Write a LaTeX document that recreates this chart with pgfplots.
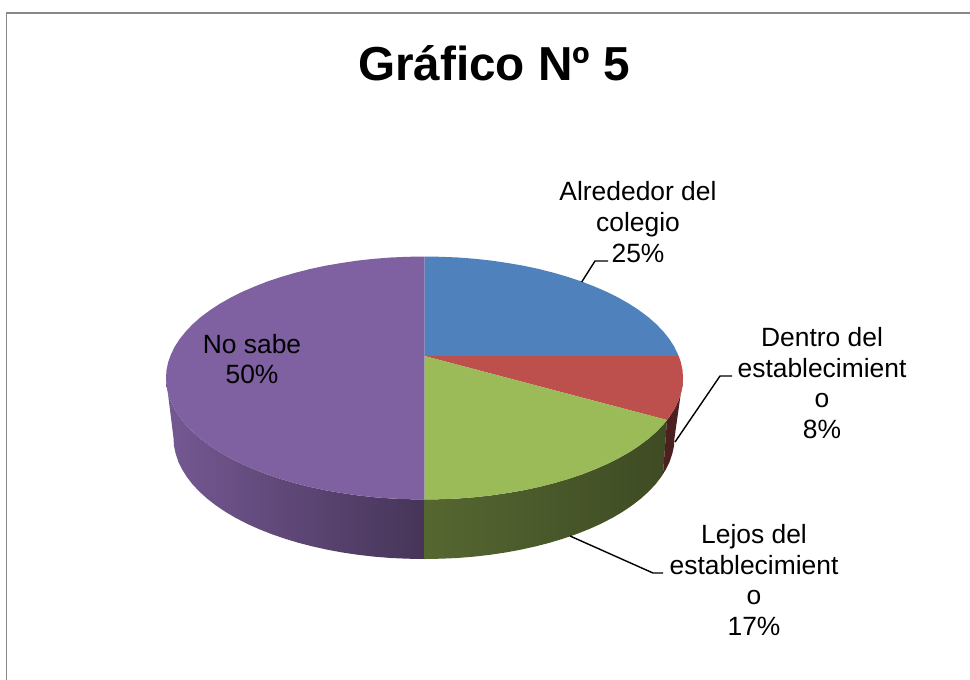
\documentclass[border=0pt]{standalone}
\usepackage{pgfplots}
\pgfplotsset{compat=1.18}
\usepackage{fontspec}
\setmainfont{Liberation Sans}

\definecolor{pblue}{HTML}{4F81BD}
\definecolor{pred}{HTML}{BD4F4C}
\definecolor{pgreen}{HTML}{9BBB59}
\definecolor{ppurple}{HTML}{7F60A0}

\tikzset{lbl/.style={font=\fontsize{26.4bp}{30.8bp}\selectfont, align=center, inner sep=0pt, text=black}}

\begin{document}
\begin{tikzpicture}
\begin{axis}[
    scale only axis,
    width=970bp, height=680bp,
    xmin=0, xmax=970, ymin=0, ymax=680,
    y dir=reverse,
    hide axis,
    clip=true,
]
% page background, keeps the full size
\addplot[fill=white, draw=none] coordinates {(0,0) (970,0) (970,680) (0,680)} -- cycle;

% chart frame (left and top only are inside the picture)
\addplot[color=black!47, line width=1.4bp] coordinates {(6.7,680) (6.7,13) (970,13)};

% side wall, purple
\addplot[left color=ppurple!92!black, middle color=ppurple!75!black, right color=ppurple!55!black, draw=none] coordinates {
    (424.5,499.5) (407.6,499.2) (390.8,498.5) (374.1,497.2) (357.6,495.4) (341.4,493) (325.6,490.3) (310.2,487)
    (295.2,483.2) (280.9,479) (267.1,474.4) (254.1,469.3) (241.7,463.9) (230.2,458.1) (219.4,452) (209.6,445.5)
    (200.6,438.8) (192.6,431.7) (185.7,424.5) (179.7,417) (174.8,409.4) (171,401.7) (168.2,393.9) (166.5,385.9) (166,378)
    (173.5,438) (174,445.9) (175.7,453.8) (178.3,461.6) (182.1,469.3) (186.8,476.9) (192.5,484.3) (199.3,491.5)
    (207,498.5) (215.6,505.2) (225.2,511.7) (235.5,517.8) (246.7,523.6) (258.7,529) (271.3,534) (284.6,538.6)
    (298.5,542.8) (312.9,546.5) (327.8,549.8) (343.1,552.6) (358.8,554.9) (374.7,556.7) (390.8,558) (407.1,558.7) (424.5,559)
} -- cycle;

% side wall, green
\addplot[left color=pgreen!55!black, middle color=pgreen!40!black, right color=pgreen!40!black, draw=none] coordinates {
    (424.5,499.5) (441.4,499.2) (458.2,498.5) (474.9,497.2) (491.4,495.4) (507.6,493) (523.4,490.3) (538.8,487)
    (553.8,483.2) (568.1,479) (581.9,474.4) (594.9,469.3) (607.3,463.9) (618.8,458.1) (629.6,452) (639.4,445.5)
    (648.4,438.8) (656.4,431.7) (663.3,424.5) (667,420)
    (663,474) (661.2,476.9) (655.5,484.3) (648.7,491.5) (641,498.5) (632.4,505.2) (622.8,511.7) (612.5,517.8)
    (601.3,523.6) (589.3,529) (576.7,534) (563.4,538.6) (549.5,542.8) (535.1,546.5) (520.2,549.8) (504.9,552.6)
    (489.2,554.9) (473.3,556.7) (457.2,558) (440.9,558.7) (424.5,559)
} -- cycle;

% side wall, red
\addplot[fill=pred!40!black, draw=none] coordinates {
    (667,420) (669.3,417) (674.2,409.4) (678,401.7) (680.8,393.9) (682.5,385.9) (683,378)
    (674.5,438) (674,445.9) (672.3,453.8) (669.7,461.6) (665.9,469.3) (663,474)
} -- cycle;

% top, purple
\addplot[fill=ppurple, draw=none] coordinates {
    (424.5,356) (424.5,499.5) (407.6,499.2) (390.8,498.5) (374.1,497.2) (357.6,495.4) (341.4,493) (325.6,490.3) (310.2,487)
    (295.2,483.2) (280.9,479) (267.1,474.4) (254.1,469.3) (241.7,463.9) (230.2,458.1) (219.4,452) (209.6,445.5)
    (200.6,438.8) (192.6,431.7) (185.7,424.5) (179.7,417) (174.8,409.4) (171,401.7) (168.2,393.9) (166.5,385.9) (166,378)
    (166.5,370.1) (168.2,362.1) (171,354.3) (174.8,346.6) (179.7,339) (185.7,331.5) (192.6,324.3) (200.6,317.2)
    (209.6,310.5) (219.4,304) (230.2,297.9) (241.7,292.1) (254.1,286.7) (267.1,281.6) (280.9,277) (295.2,272.8)
    (310.2,269) (325.6,265.7) (341.4,263) (357.6,260.6) (374.1,258.8) (390.8,257.5) (407.6,256.8) (424.5,256.5)
} -- cycle;

% top, blue
\addplot[fill=pblue, draw=none] coordinates {
    (424.5,356) (424.5,256.5) (441.4,256.8) (458.2,257.5) (474.9,258.8) (491.4,260.6) (507.6,263) (523.4,265.7)
    (538.8,269) (553.8,272.8) (568.1,277) (581.9,281.6) (594.9,286.7) (607.3,292.1) (618.8,297.9) (629.6,304)
    (639.4,310.5) (648.4,317.2) (656.4,324.3) (663.3,331.5) (669.3,339) (674.2,346.6) (678.7,356)
} -- cycle;

% top, red
\addplot[fill=pred, draw=none] coordinates {
    (424.5,356) (678.7,356) (680.8,362.1) (682.5,370.1) (683,378) (682.5,385.9) (680.8,393.9) (678,401.7)
    (674.2,409.4) (669.3,417) (667,420)
} -- cycle;

% top, green
\addplot[fill=pgreen, draw=none] coordinates {
    (424.5,356) (667,420) (663.3,424.5) (656.4,431.7) (648.4,438.8) (639.4,445.5) (629.6,452) (618.8,458.1)
    (607.3,463.9) (594.9,469.3) (581.9,474.4) (568.1,479) (553.8,483.2) (538.8,487) (523.4,490.3) (507.6,493)
    (491.4,495.4) (474.9,497.2) (458.2,498.5) (441.4,499.2) (424.5,499.5)
} -- cycle;

% leader lines
\addplot[black, line width=1.4bp] coordinates {(581.7,282) (595,261) (608,261)};
\addplot[black, line width=1.4bp] coordinates {(675,442) (720,376) (732,376)};
\addplot[black, line width=1.4bp] coordinates {(570,536) (653,573) (663,573)};

\node[font=\fontsize{47.7bp}{52bp}\selectfont\bfseries, inner sep=0pt] at (axis cs:494,63) {Gráfico Nº 5};
\node[lbl] at (axis cs:638,222) {Alrededor del\\colegio\\25\%};
\node[lbl] at (axis cs:822,383) {Dentro del\\establecimient\\o\\8\%};
\node[lbl] at (axis cs:754,580) {Lejos del\\establecimient\\o\\17\%};
\node[lbl] at (axis cs:252,359) {No sabe\\50\%};
\end{axis}
\end{tikzpicture}
\end{document}
